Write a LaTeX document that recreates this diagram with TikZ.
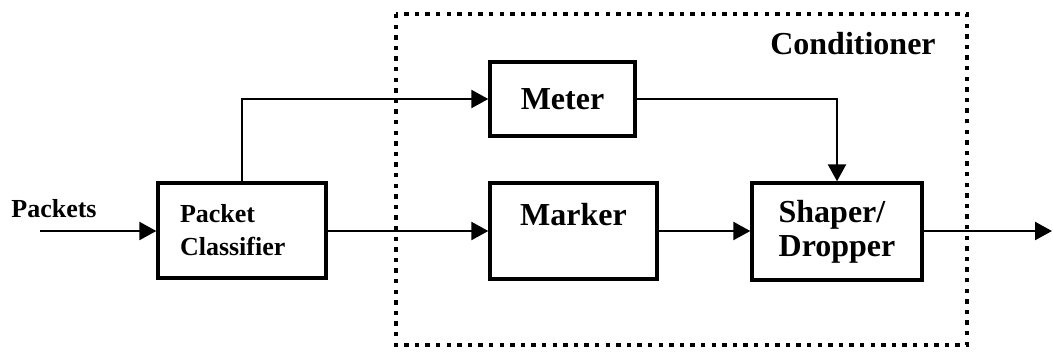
\documentclass[tikz,border=0pt]{standalone}
\usepackage{fontspec}
\setmainfont{Liberation Serif}
\usepackage{tikz}
\usetikzlibrary{arrows.meta, positioning}

\begin{document}
\begin{tikzpicture}[x=0.5pt, y=-0.5pt,
        block/.style={draw, line width=1.7pt, inner sep=0pt, align=center,
            font=\fontsize{16}{17}\selectfont\bfseries},
        small/.style={font=\fontsize{13}{16.5}\selectfont\bfseries},
        flow/.style={line width=1.2pt, -{Triangle[length=8.5pt, width=9pt]}}]
        \useasboundingbox (0,0) rectangle (1053,354);

        % conditioner frame
        \draw[line width=2.2pt, dash pattern=on 2.2pt off 3.1pt] (396,14) rectangle (967,345);
        \node[font=\fontsize{16}{17}\selectfont\bfseries] (condlabel) at (853,44) {Conditioner};

        % blocks
        \node[block, small, align=left, text width=62pt, inner xsep=11pt, minimum height=47.5pt] (classifier) at (242,230.5) {Packet\\Classifier};
        \node[block, minimum width=72.5pt, minimum height=37pt] (meter) at (562.5,99) {Meter};
        \node[block, minimum width=83.5pt, minimum height=48pt] (marker) at (573.5,231) {Marker\\~};
        \node[block, align=left, minimum width=85pt, minimum height=48.5pt] (shaper) at (837,231.5) {Shaper/\\Dropper};

        % input and output
        \coordinate (in) at (40,231);
        \coordinate (out) at (1052,231);
        \node[small] (packets) at (54,209) {Packets};

        % connectors
        \draw[flow] (in) -- (classifier.west |- in);
        \draw[flow] (classifier.north) |- (meter.west);
        \draw[flow] (classifier.east |- in) -- (marker.west |- in);
        \draw[flow] (marker.east |- in) -- (shaper.west |- in);
        \draw[flow] (meter.east) -| (shaper.north);
        \draw[flow] (shaper.east |- in) -- (out);
    \end{tikzpicture}
\end{document}
